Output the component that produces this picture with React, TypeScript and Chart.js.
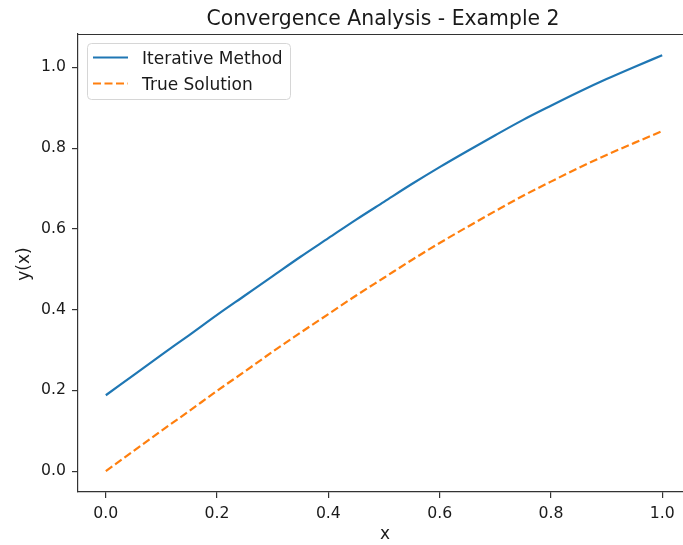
import React, { useEffect, useRef } from "react";
import { Chart, registerables } from "chart.js";

Chart.register(...registerables);

const TITLE = "Convergence Analysis - Example 2";
const X_LABEL = "x";
const Y_LABEL = "y(x)";
const SERIES_NAMES = ["Iterative Method", "True Solution"];

const xValues = [0, 0.05, 0.1, 0.15, 0.2, 0.25, 0.3, 0.35, 0.4, 0.45, 0.5, 0.55, 0.6, 0.65, 0.7, 0.75, 0.8, 0.85, 0.9, 0.95, 1.0];
const iterativeValues = [0.188, 0.238, 0.288, 0.337, 0.387, 0.435, 0.483, 0.531, 0.577, 0.623, 0.667, 0.711, 0.753, 0.793, 0.832, 0.870, 0.905, 0.939, 0.971, 1.001, 1.030];
const trueValues = [0.0, 0.050, 0.100, 0.149, 0.199, 0.247, 0.296, 0.343, 0.389, 0.435, 0.479, 0.523, 0.565, 0.605, 0.644, 0.682, 0.717, 0.751, 0.783, 0.813, 0.842];
const xTicks = [0, 0.2, 0.4, 0.6, 0.8, 1.0];
const yTicks = [0, 0.2, 0.4, 0.6, 0.8, 1.0];

const BLUE = "#1f77b4";
const ORANGE = "#ff7f0e";
const FONT = '"DejaVu Sans", sans-serif';
const TEXT = "#1a1a1a";

const overlay = {
  id: "overlay",
  afterDraw(chart: any) {
    const ctx = chart.ctx as CanvasRenderingContext2D;
    const a = chart.chartArea;
    ctx.save();
    // top spine (right spine lies outside the visible area)
    ctx.strokeStyle = "#333";
    ctx.lineWidth = 1.2;
    ctx.beginPath();
    ctx.moveTo(a.left, Math.round(a.top) + 0.5);
    ctx.lineTo(a.right, Math.round(a.top) + 0.5);
    ctx.stroke();

    ctx.fillStyle = TEXT;
    ctx.textAlign = "center";
    ctx.textBaseline = "alphabetic";
    ctx.font = `20.4px ${FONT}`;
    ctx.fillText(TITLE, 383, 25);
    ctx.font = `17px ${FONT}`;
    ctx.fillText(X_LABEL, 385, 539);
    ctx.save();
    ctx.translate(29, (a.top + a.bottom) / 2 + 1);
    ctx.rotate(-Math.PI / 2);
    ctx.fillText(Y_LABEL, 0, 0);
    ctx.restore();

    // legend
    const lx = 87.5, ly = 43.5, lw = 203, lh = 56, r = 4;
    ctx.beginPath();
    ctx.moveTo(lx + r, ly);
    ctx.lineTo(lx + lw - r, ly);
    ctx.quadraticCurveTo(lx + lw, ly, lx + lw, ly + r);
    ctx.lineTo(lx + lw, ly + lh - r);
    ctx.quadraticCurveTo(lx + lw, ly + lh, lx + lw - r, ly + lh);
    ctx.lineTo(lx + r, ly + lh);
    ctx.quadraticCurveTo(lx, ly + lh, lx, ly + lh - r);
    ctx.lineTo(lx, ly + r);
    ctx.quadraticCurveTo(lx, ly, lx + r, ly);
    ctx.closePath();
    ctx.fillStyle = "rgba(255,255,255,0.8)";
    ctx.fill();
    ctx.strokeStyle = "#d6d6d6";
    ctx.lineWidth = 1;
    ctx.stroke();

    const rows = [
      { y: 57.5, base: 64, color: BLUE, dash: [] as number[], label: SERIES_NAMES[0] },
      { y: 83.5, base: 90, color: ORANGE, dash: [8, 3.5], label: SERIES_NAMES[1] },
    ];
    for (const row of rows) {
      ctx.beginPath();
      ctx.setLineDash(row.dash);
      ctx.strokeStyle = row.color;
      ctx.lineWidth = 2.2;
      ctx.moveTo(93, row.y);
      ctx.lineTo(128, row.y);
      ctx.stroke();
      ctx.setLineDash([]);
      ctx.fillStyle = TEXT;
      ctx.textAlign = "left";
      ctx.textBaseline = "alphabetic";
      ctx.font = `17px ${FONT}`;
      ctx.fillText(row.label, 142, row.base);
    }
    ctx.restore();
  },
};

export default function App() {
  const ref = useRef<HTMLCanvasElement | null>(null);
  useEffect(() => {
    if (!ref.current) return;
    const chart = new Chart(ref.current, {
      type: "line",
      data: {
        datasets: [
          {
            label: SERIES_NAMES[0],
            data: xValues.map((x, i) => ({ x, y: iterativeValues[i] })),
            borderColor: BLUE,
            borderWidth: 2.2,
            pointRadius: 0,
            cubicInterpolationMode: "monotone",
            fill: false,
          },
          {
            label: SERIES_NAMES[1],
            data: xValues.map((x, i) => ({ x, y: trueValues[i] })),
            borderColor: ORANGE,
            borderWidth: 2.2,
            borderDash: [8, 3.5],
            pointRadius: 0,
            cubicInterpolationMode: "monotone",
            fill: false,
          },
        ],
      },
      options: {
        animation: false,
        responsive: false,
        devicePixelRatio: 1,
        layout: { padding: { top: 34, right: 70, left: 0, bottom: 0 } },
        plugins: { legend: { display: false }, title: { display: false }, tooltip: { enabled: false } },
        scales: {
          x: {
            type: "linear",
            min: -0.05,
            max: 1.05,
            afterFit: (s: any) => {
              s.height = 53;
              s.paddingLeft = 0;
              s.paddingRight = 0;
            },
            afterBuildTicks: (s: any) => { s.ticks = xTicks.map((v) => ({ value: v })); },
            grid: { display: true, drawOnChartArea: false, drawTicks: true, tickLength: 6, color: "#333", lineWidth: 1.2 },
            border: { display: true, color: "#333", width: 1.2 },
            ticks: {
              color: TEXT,
              font: { family: FONT, size: 15.7 },
              padding: 7,
              maxRotation: 0,
              callback: (v: any) => Number(v).toFixed(1),
            },
          },
          y: {
            type: "linear",
            min: -0.0516,
            max: 1.0826,
            afterFit: (s: any) => {
              s.width = 78;
              s.paddingTop = 0;
              s.paddingBottom = 0;
            },
            afterBuildTicks: (s: any) => { s.ticks = yTicks.map((v) => ({ value: v })); },
            grid: { display: true, drawOnChartArea: false, drawTicks: true, tickLength: 6, color: "#333", lineWidth: 1.2 },
            border: { display: true, color: "#333", width: 1.2 },
            ticks: {
              color: TEXT,
              font: { family: FONT, size: 15.7 },
              padding: 6,
              callback: (v: any) => Number(v).toFixed(1),
            },
          },
        },
      },
      plugins: [overlay],
    });
    return () => chart.destroy();
  }, []);
  return (
    <div style={{ position: "fixed", left: 0, top: 0, width: "100vw", height: "100vh", overflow: "hidden", background: "#fff" }}>
      <canvas ref={ref} width={760} height={545} style={{ display: "block" }} />
    </div>
  );
}
